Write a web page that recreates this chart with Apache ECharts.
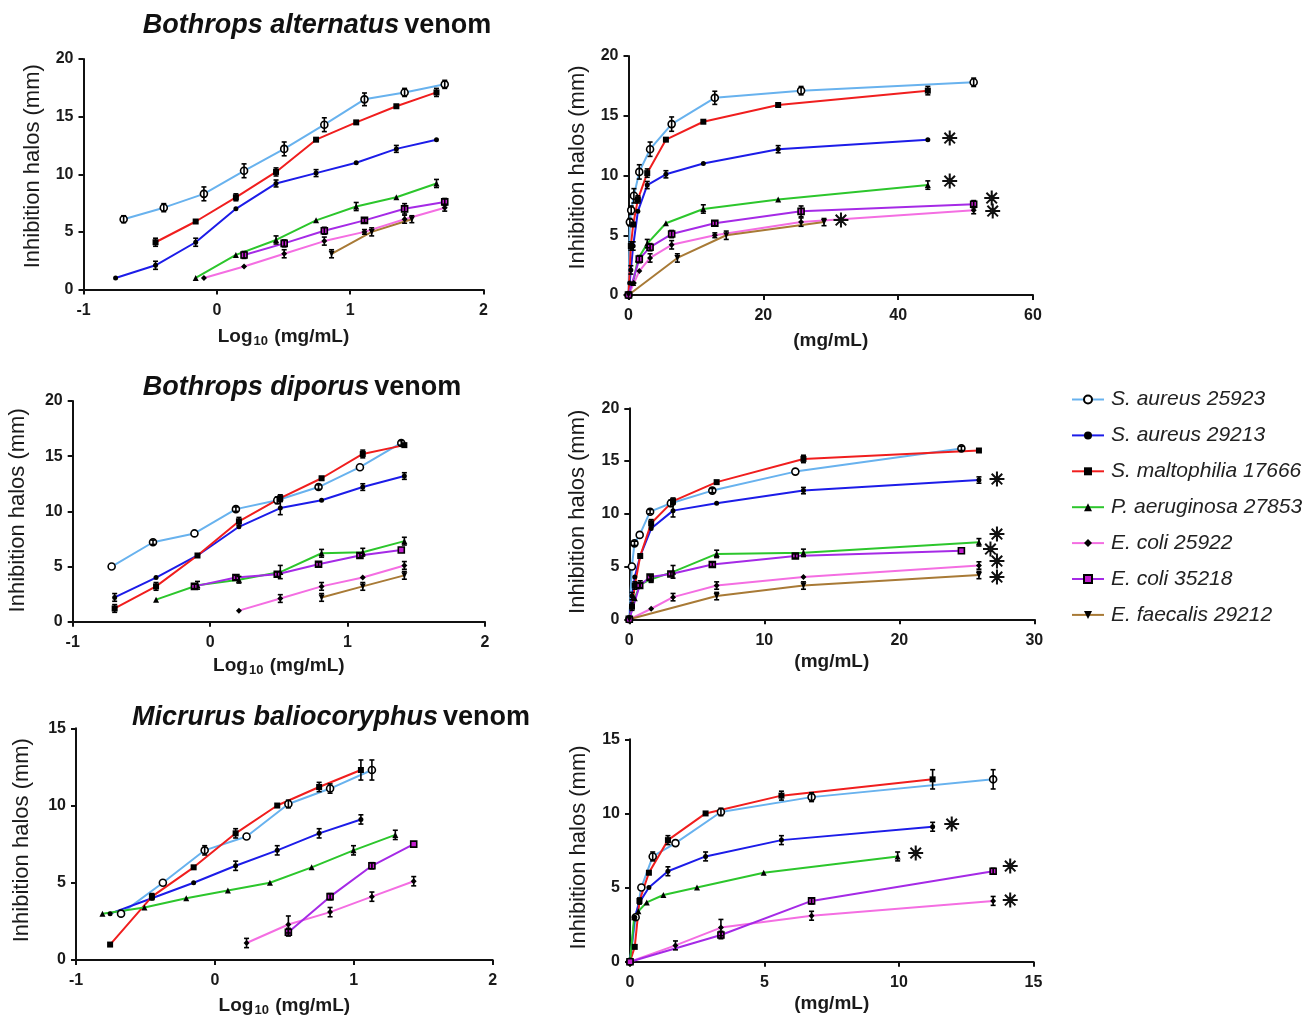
<!DOCTYPE html>
<html><head><meta charset="utf-8">
<script src="https://cdn.jsdelivr.net/npm/echarts@6/dist/echarts.min.js"></script>
<style>html,body{margin:0;padding:0;background:#fff}#c{width:1309px;height:1018px}</style>
</head><body><div id="c"></div>
<script>
// ---------- names ----------
const seriesNames = ['S. aureus 25923','S. aureus 29213','S. maltophilia 17666','P. aeruginosa 27853','E. coli 25922','E. coli 35218','E. faecalis 29212'];
const venomTitles = ['Bothrops alternatus','Bothrops diporus','Micrurus baliocoryphus'];

// ---------- Bothrops alternatus (concentration mg/mL, halo mm, error mm) ----------
const ba_sa25923_conc = [0.2,0.4,0.8,1.6,3.2,6.4,12.8,25.6,51.2];
const ba_sa25923_halo = [6.1,7.1,8.3,10.3,12.2,14.3,16.5,17.1,17.8];
const ba_sa25923_err  = [0.3,0.35,0.6,0.6,0.6,0.6,0.55,0.35,0.35];
const ba_sa29213_conc = [0.174,0.347,0.694,1.39,2.78,5.55,11.1,22.2,44.4];
const ba_sa29213_halo = [1.0,2.1,4.1,7.0,9.2,10.1,11.0,12.2,13.0];
const ba_sa29213_err  = [0,0.35,0.35,0,0.3,0.3,0,0.3,0];
const ba_smal_conc = [0.347,0.694,1.39,2.78,5.55,11.1,22.2,44.4];
const ba_smal_halo = [4.1,5.9,8.0,10.2,13.0,14.5,15.9,17.1];
const ba_smal_err  = [0.35,0,0.3,0.35,0,0,0,0.35];
const ba_paer_conc = [0.694,1.39,2.78,5.55,11.1,22.2,44.4];
const ba_paer_halo = [1.0,3.0,4.3,6.0,7.2,8.0,9.2];
const ba_paer_err  = [0,0,0.35,0,0.35,0,0.35];
const ba_ec25922_conc = [0.8,1.6,3.2,6.4,12.8,25.6,51.2];
const ba_ec25922_halo = [1.0,2.0,3.1,4.2,5.0,6.1,7.1];
const ba_ec25922_err  = [0,0,0.35,0.35,0.2,0.35,0.3];
const ba_ec35218_conc = [1.6,3.2,6.4,12.8,25.6,51.2];
const ba_ec35218_halo = [3.0,4.0,5.1,6.0,7.0,7.6];
const ba_ec35218_err  = [0.3,0.3,0.3,0.2,0.45,0.3];
const ba_efae_conc = [7.25,14.5,29.0];
const ba_efae_halo = [3.1,5.0,6.1];
const ba_efae_err  = [0.35,0.35,0.3];

// ---------- Bothrops diporus ----------
const bd_sa25923_conc = [0.192,0.384,0.769,1.54,3.08,6.15,12.3,24.6];
const bd_sa25923_halo = [5.0,7.2,8.0,10.2,11.0,12.2,14.0,16.2];
const bd_sa25923_err  = [0,0.2,0,0.2,0.3,0.2,0,0.2];
const bd_sa29213_conc = [0.202,0.404,0.809,1.62,3.24,6.47,12.9,25.9];
const bd_sa29213_halo = [2.2,4.0,6.0,8.6,10.3,11.0,12.2,13.2];
const bd_sa29213_err  = [0.35,0,0,0,0.6,0,0.3,0.3];
const bd_smal_conc = [0.202,0.404,0.809,1.62,3.24,6.47,12.9,25.9];
const bd_smal_halo = [1.2,3.2,6.0,9.1,11.2,13.0,15.2,16.0];
const bd_smal_err  = [0.35,0.35,0,0.35,0.3,0,0.35,0];
const bd_paer_conc = [0.404,0.809,1.62,3.24,6.47,12.9,25.9];
const bd_paer_halo = [2.0,3.3,3.8,4.5,6.2,6.3,7.3];
const bd_paer_err  = [0,0.35,0.3,0.6,0.35,0.35,0.35];
const bd_ec25922_conc = [1.62,3.24,6.47,12.9,25.9];
const bd_ec25922_halo = [1.0,2.1,3.2,4.0,5.1];
const bd_ec25922_err  = [0,0.35,0.35,0,0.35];
const bd_ec35218_conc = [0.769,1.54,3.08,6.15,12.3,24.6];
const bd_ec35218_halo = [3.2,4.0,4.3,5.2,6.0,6.5];
const bd_ec35218_err  = [0.2,0.2,0.2,0.2,0.2,0];
const bd_efae_conc = [6.47,12.9,25.9];
const bd_efae_halo = [2.2,3.2,4.2];
const bd_efae_err  = [0.35,0.35,0.35];

// ---------- Micrurus baliocoryphus ----------
const mb_sa25923_conc = [0.211,0.422,0.844,1.69,3.38,6.75,13.5];
const mb_sa25923_halo = [3.0,5.0,7.1,8.0,10.1,11.1,12.3];
const mb_sa25923_err  = [0,0,0.3,0,0.25,0.3,0.65];
const mb_sa29213_conc = [0.176,0.352,0.703,1.41,2.81,5.63,11.25];
const mb_sa29213_halo = [3.0,4.0,5.0,6.1,7.1,8.2,9.1];
const mb_sa29213_err  = [0,0,0,0.3,0.3,0.3,0.3];
const mb_smal_conc = [0.176,0.352,0.703,1.41,2.81,5.63,11.25];
const mb_smal_halo = [1.0,4.1,6.0,8.2,10.0,11.2,12.3];
const mb_smal_err  = [0,0.2,0,0.3,0,0.3,0.65];
const mb_paer_conc = [0.155,0.311,0.622,1.24,2.49,4.97,9.95,19.9];
const mb_paer_halo = [3.0,3.4,4.0,4.5,5.0,6.0,7.1,8.1];
const mb_paer_err  = [0,0,0,0,0,0,0.3,0.3];
const mb_ec25922_conc = [1.69,3.38,6.75,13.5,27.0];
const mb_ec25922_halo = [1.1,2.3,3.1,4.1,5.1];
const mb_ec25922_err  = [0.3,0.55,0.3,0.3,0.3];
const mb_ec35218_conc = [3.38,6.75,13.5,27.0];
const mb_ec35218_halo = [1.8,4.1,6.1,7.5];
const mb_ec35218_err  = [0.25,0.2,0.2,0];

// ---------- axis ticks ----------
const logTicks = [-1,0,1,2];
const yMaxes = [20,20,15];
const rightXMax = [60,30,15];
const rightXInterval = [20,10,5];

// ---------- styles ----------
const FONT = "'Liberation Sans', Arial, Helvetica, sans-serif";
const lineColors = {
  'S. aureus 25923':'#68b2ee','S. aureus 29213':'#1c1ce8','S. maltophilia 17666':'#f01e1e',
  'P. aeruginosa 27853':'#2cc62c','E. coli 25922':'#f46ee2','E. coli 35218':'#a52ae6','E. faecalis 29212':'#a87a36'
};
const symbols = {
  'S. aureus 25923':{symbol:'circle',size:7,color:'#fff',border:'#000',bw:1.6},
  'S. aureus 29213':{symbol:'circle',size:5,color:'#000'},
  'S. maltophilia 17666':{symbol:'rect',size:6,color:'#000'},
  'P. aeruginosa 27853':{symbol:'triangle',size:6,color:'#000'},
  'E. coli 25922':{symbol:'diamond',size:6,color:'#000'},
  'E. coli 35218':{symbol:'rect',size:6,color:'#c41fd0',border:'#000',bw:1.6},
  'E. faecalis 29212':{symbol:'triangle',size:6,color:'#000',rotate:180}
};
// asterisk offsets (px) for right-hand panels
const stars = [
  {'S. aureus 29213':[22,0],'P. aeruginosa 27853':[22,-2],'E. coli 35218':[18,-4],'E. coli 25922':[19,3],'E. faecalis 29212':[17,0]},
  {'S. aureus 29213':[18,1],'P. aeruginosa 27853':[18,-6],'E. coli 35218':[29,0],'E. coli 25922':[18,-2],'E. faecalis 29212':[18,4]},
  {'S. aureus 29213':[19,-1],'P. aeruginosa 27853':[18,-1],'E. coli 35218':[17,-3],'E. coli 25922':[17,1]}
];

const venoms = [
  [
    {name:seriesNames[0],conc:ba_sa25923_conc,halo:ba_sa25923_halo,err:ba_sa25923_err},
    {name:seriesNames[1],conc:ba_sa29213_conc,halo:ba_sa29213_halo,err:ba_sa29213_err},
    {name:seriesNames[2],conc:ba_smal_conc,halo:ba_smal_halo,err:ba_smal_err},
    {name:seriesNames[3],conc:ba_paer_conc,halo:ba_paer_halo,err:ba_paer_err},
    {name:seriesNames[4],conc:ba_ec25922_conc,halo:ba_ec25922_halo,err:ba_ec25922_err},
    {name:seriesNames[5],conc:ba_ec35218_conc,halo:ba_ec35218_halo,err:ba_ec35218_err},
    {name:seriesNames[6],conc:ba_efae_conc,halo:ba_efae_halo,err:ba_efae_err}
  ],
  [
    {name:seriesNames[0],conc:bd_sa25923_conc,halo:bd_sa25923_halo,err:bd_sa25923_err},
    {name:seriesNames[1],conc:bd_sa29213_conc,halo:bd_sa29213_halo,err:bd_sa29213_err},
    {name:seriesNames[2],conc:bd_smal_conc,halo:bd_smal_halo,err:bd_smal_err},
    {name:seriesNames[3],conc:bd_paer_conc,halo:bd_paer_halo,err:bd_paer_err},
    {name:seriesNames[4],conc:bd_ec25922_conc,halo:bd_ec25922_halo,err:bd_ec25922_err},
    {name:seriesNames[5],conc:bd_ec35218_conc,halo:bd_ec35218_halo,err:bd_ec35218_err},
    {name:seriesNames[6],conc:bd_efae_conc,halo:bd_efae_halo,err:bd_efae_err}
  ],
  [
    {name:seriesNames[0],conc:mb_sa25923_conc,halo:mb_sa25923_halo,err:mb_sa25923_err},
    {name:seriesNames[1],conc:mb_sa29213_conc,halo:mb_sa29213_halo,err:mb_sa29213_err},
    {name:seriesNames[2],conc:mb_smal_conc,halo:mb_smal_halo,err:mb_smal_err},
    {name:seriesNames[3],conc:mb_paer_conc,halo:mb_paer_halo,err:mb_paer_err},
    {name:seriesNames[4],conc:mb_ec25922_conc,halo:mb_ec25922_halo,err:mb_ec25922_err},
    {name:seriesNames[5],conc:mb_ec35218_conc,halo:mb_ec35218_halo,err:mb_ec35218_err}
  ]
];

// ---------- layout ----------
const grids = [
  {left:83.5, top:59,    width:400,   height:230.5},
  {left:628.5,top:56,    width:404.5, height:239},
  {left:72.7, top:401,   width:412.3, height:220.7},
  {left:629.3,top:408.3, width:405,   height:211},
  {left:76,   top:728.3, width:416.7, height:232.4},
  {left:630,  top:739.3, width:403.5, height:222.4}
];
const yNameGaps = [40,40,44,40,43,40];
const yNameShift = [16,16,2,4,8,6];
const xNameGaps = [36,36,33,33,35,33];
const titlePos = [[312,7],[297,369],[326,699]];

const axisLineCfg = {show:true,onZero:false,lineStyle:{color:'#111',width:2}};
const axisTickCfg = {show:true,length:5,inside:false,lineStyle:{color:'#111',width:2}};
const axisLabelCfg = (m)=>({fontFamily:FONT,fontSize:16,fontWeight:'bold',color:'#1a1a1a',margin:m});

const xAxes = [], yAxes = [], series = [], titles = [];
for (let v=0; v<3; v++) {
  const gL = 2*v, gR = 2*v+1;
  xAxes.push({type:'value',gridIndex:gL,min:logTicks[0],max:logTicks[logTicks.length-1],interval:1,
    axisLine:axisLineCfg,axisTick:axisTickCfg,axisLabel:axisLabelCfg(13),splitLine:{show:false},
    name:'{a|Log}{s|10}{a| (mg/mL)}',nameLocation:'middle',nameGap:xNameGaps[gL],
    nameTextStyle:{rich:{a:{fontFamily:FONT,fontSize:19,fontWeight:'bold',color:'#1a1a1a'},
                          s:{fontFamily:FONT,fontSize:13,fontWeight:'bold',color:'#1a1a1a',padding:[9,1,0,1]}}}});
  xAxes.push({type:'value',gridIndex:gR,min:0,max:rightXMax[v],interval:rightXInterval[v],
    axisLine:axisLineCfg,axisTick:axisTickCfg,axisLabel:axisLabelCfg(13),splitLine:{show:false},
    name:'(mg/mL)',nameLocation:'middle',nameGap:xNameGaps[gR],
    nameTextStyle:{fontFamily:FONT,fontSize:19,fontWeight:'bold',color:'#1a1a1a'}});
  for (const g of [gL,gR]) {
    yAxes.push({type:'value',gridIndex:g,min:0,max:yMaxes[v],interval:5,
      axisLine:axisLineCfg,axisTick:axisTickCfg,axisLabel:axisLabelCfg(10),splitLine:{show:false},
      name:'Inhibition halos (mm)',nameLocation:'middle',nameGap:yNameGaps[g],nameRotate:90,
      nameTextStyle:{fontFamily:FONT,fontSize:22,color:'#1a1a1a',padding:[0,0,0,yNameShift[g]]}});
  }
  titles.push({text:'{i|'+venomTitles[v]+'} {n|venom}',left:titlePos[v][0],top:titlePos[v][1],textAlign:'center',
    textStyle:{rich:{i:{fontFamily:FONT,fontSize:27,fontWeight:'bold',fontStyle:'italic',color:'#111'},
                     n:{fontFamily:FONT,fontSize:27,fontWeight:'bold',color:'#111'}}}});

  venoms[v].forEach(s => {
    const sy = symbols[s.name], col = lineColors[s.name];
    const base = {type:'line',name:s.name,color:col,symbol:sy.symbol,symbolSize:sy.size,symbolRotate:sy.rotate||0,
      showAllSymbol:true,animation:false,z:3,
      lineStyle:{color:col,width:2},
      itemStyle:{color:sy.color,borderColor:sy.border||sy.color,borderWidth:sy.bw||0}};
    // left: log10 scale
    const leftData = s.conc.map((c,i)=>[Math.log10(c), s.halo[i]]);
    series.push(Object.assign({},base,{xAxisIndex:gL,yAxisIndex:gL,data:leftData}));
    // right: linear concentration, starting at origin, limited to axis range
    let rightData = [[0,0]].concat(s.conc.map((c,i)=>[c, s.halo[i]])).filter(p=>p[0]<=rightXMax[v]);
    const st = stars[v][s.name];
    rightData = rightData.map((p,i)=>{
      if (st && i===rightData.length-1) {
        return {value:p,label:{show:true,position:'inside',offset:st,formatter:'\u2733',
          fontSize:19,fontWeight:'bold',color:'#111',fontFamily:'DejaVu Sans',
          textBorderColor:'#111',textBorderWidth:1.1}};
      }
      return p;
    });
    series.push(Object.assign({},base,{xAxisIndex:gR,yAxisIndex:gR,data:rightData}));
    // error bars
    const errL = s.conc.map((c,i)=>[Math.log10(c), s.halo[i], s.err[i]]);
    const errR = s.conc.map((c,i)=>[c, s.halo[i], s.err[i]]).filter(p=>p[0]<=rightXMax[v]);
    [[gL,errL],[gR,errR]].forEach(([g,d])=>{
      series.push({type:'custom',name:s.name+' error',xAxisIndex:g,yAxisIndex:g,data:d,z:4,animation:false,
        encode:{x:0,y:1},silent:true,
        renderItem:(params,api)=>{
          const x=api.value(0),y=api.value(1),e=api.value(2);
          if(!e) return null;
          const t=api.coord([x,y+e]), b=api.coord([x,y-e]), w=2.5;
          const st={stroke:'#000',lineWidth:1.6};
          return {type:'group',children:[
            {type:'line',shape:{x1:t[0],y1:t[1],x2:b[0],y2:b[1]},style:st},
            {type:'line',shape:{x1:t[0]-w,y1:t[1],x2:t[0]+w,y2:t[1]},style:st},
            {type:'line',shape:{x1:b[0]-w,y1:b[1],x2:b[0]+w,y2:b[1]},style:st}
          ]};
        }});
    });
  });
}

const chart = echarts.init(document.getElementById('c'), null, {renderer:'canvas'});
chart.setOption({
  backgroundColor:'#fff',
  animation:false,
  title:titles,
  grid:grids,
  xAxis:xAxes,
  yAxis:yAxes,
  legend:{data:seriesNames,orient:'vertical',left:1066,top:384,itemWidth:32,itemHeight:10,itemGap:14.9,
    textStyle:{fontFamily:FONT,fontSize:21,fontStyle:'italic',color:'#222',padding:[0,0,0,2]}},
  series:series
});
</script></body></html>
